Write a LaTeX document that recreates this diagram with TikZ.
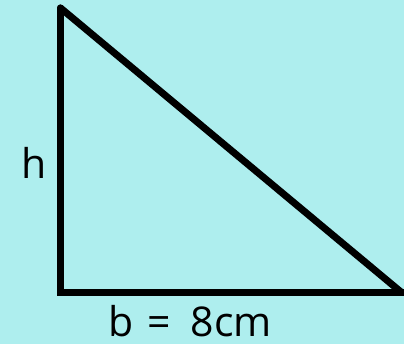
\documentclass[tikz,border=0pt]{standalone}
\usepackage{fontspec}
\setmainfont{Open Sans}
\definecolor{bg}{HTML}{AEEEEE}
\begin{document}
\begin{tikzpicture}[x=1pt,y=-1pt,
  side/.style={line width=7pt,black},
  lbl/.style={font=\fontsize{41}{44}\selectfont,inner sep=0pt,text depth=0pt}]
\fill[bg] (0,0) rectangle (404,344);
\useasboundingbox (0,0) rectangle (404,344);
\coordinate (A) at (60.5,8);
\coordinate (B) at (60.5,292.5);
\coordinate (C) at (404,292.5);
\coordinate (D) at (401,292);
\draw[side,line join=miter,line cap=round] (A) -- (B) -- (C);
\draw[side,line cap=round] (A) -- (D);
\node[lbl,anchor=base] (h) at (34,179) {h};
\node[lbl,anchor=base] (b) at (190,337) {b\hspace{14pt}=\hspace{20pt}8cm};
\end{tikzpicture}
\end{document}
